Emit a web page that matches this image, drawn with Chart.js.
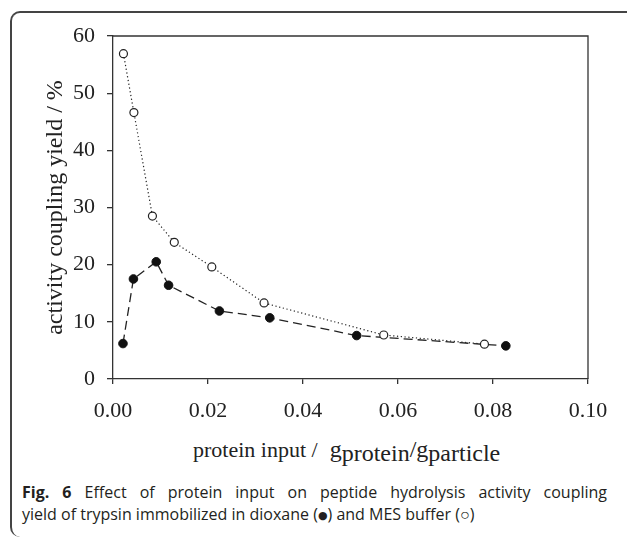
<!DOCTYPE html>
<html>
<head>
<meta charset="utf-8">
<script src="https://cdn.jsdelivr.net/npm/chart.js@4.4.0/dist/chart.umd.min.js"></script>
<style>
  html, body { margin: 0; padding: 0; background: #fff; }
  body { width: 627px; height: 538px; position: relative; overflow: hidden; }
  #frame {
    position: absolute; left: 10px; top: 11px; width: 640px; height: 524px;
    border-left: 2px solid #444; border-top: 2px solid #444;
    border-radius: 10px 0 0 10px;
  }
  #wrap { position: absolute; left: 0; top: 0; width: 627px; height: 430px; }
  #xtitle {
    position: absolute; left: 193px; top: 437px; white-space: nowrap;
    font-family: "Liberation Serif", serif; font-size: 22px; line-height: 24px; color: #222;
  }
  #xtitle .g { font-size: 24px; }
  #xtitle .sub { font-size: 24px; position: relative; top: 4px; }
  #caption {
    position: absolute; left: 22px; top: 481px; width: 585px;
    font-family: "Open Sans", sans-serif; font-size: 16px; line-height: 22px; color: #231f20;
  }
  #caption .l1 { text-align: justify; text-align-last: justify; }
  #caption .dot { font-family: "DejaVu Sans", sans-serif; font-size: 11px; vertical-align: 1px; }
</style>
</head>
<body>
<div id="frame"></div>
<div id="wrap"><canvas id="grafica"></canvas></div>
<div id="xtitle">protein input /<span class="g" style="margin-left:12px">g</span><span class="sub">protein</span><span class="g">/g</span><span class="sub">particle</span></div>
<div id="caption">
  <div class="l1"><b>Fig. 6</b> Effect of protein input on peptide hydrolysis activity coupling</div>
  <div>yield of trypsin immobilized in dioxane (<span class="dot">●</span>) and MES buffer (○)</div>
</div>
<script>
/* ===============================
   DATOS
=============================== */
const dioxanoX = [0.0021, 0.0043, 0.0091, 0.0117, 0.0224, 0.0330, 0.0513, 0.0827];
const dioxanoY = [6.2, 17.5, 20.5, 16.4, 11.9, 10.7, 7.6, 5.8];
const mesX = [0.0022, 0.0044, 0.0083, 0.0129, 0.0208, 0.0318, 0.0570, 0.0782];
const mesY = [56.9, 46.6, 28.5, 23.9, 19.6, 13.3, 7.7, 6.1];
const xTicks = [0, 0.02, 0.04, 0.06, 0.08, 0.10];
const yTicks = [0, 10, 20, 30, 40, 50, 60];

const puntos = (xs, ys) => xs.map((x, i) => ({ x, y: ys[i] }));

/* marco superior y derecho del area */
const marcoArea = {
  id: "marcoArea",
  afterDraw(chart) {
    const { ctx, chartArea: a } = chart;
    ctx.save();
    ctx.strokeStyle = "#333";
    ctx.lineWidth = 1.3;
    ctx.beginPath();
    ctx.moveTo(a.left, a.top);
    ctx.lineTo(a.right, a.top);
    ctx.lineTo(a.right, a.bottom);
    ctx.stroke();
    ctx.restore();
  }
};

const fuenteTicks = { family: "Liberation Serif", size: 22 };

new Chart(document.getElementById("grafica"), {
  type: "scatter",
  data: {
    datasets: [
      {
        label: "MES buffer",
        data: puntos(mesX, mesY),
        showLine: true,
        borderColor: "#222",
        borderWidth: 1.2,
        borderDash: [1.2, 2.6],
        pointRadius: 4,
        pointBorderWidth: 1.2,
        pointBackgroundColor: "#fff",
        pointBorderColor: "#222"
      },
      {
        label: "dioxane",
        data: puntos(dioxanoX, dioxanoY),
        showLine: true,
        borderColor: "#222",
        borderWidth: 1.3,
        borderDash: [9, 5],
        pointRadius: 4.3,
        pointBorderWidth: 1,
        pointBackgroundColor: "#111",
        pointBorderColor: "#111"
      }
    ]
  },
  options: {
    responsive: true,
    maintainAspectRatio: false,
    animation: false,
    layout: { padding: { left: 10, right: 39, top: 36, bottom: 0 } },
    plugins: { legend: { display: false }, tooltip: { enabled: false } },
    scales: {
      x: {
        type: "linear",
        min: 0, max: 0.1,
        afterBuildTicks: s => { s.ticks = xTicks.map(v => ({ value: v })); },
        afterFit: s => { s.height = 51; },
        ticks: { font: fuenteTicks, color: "#222", padding: 14, callback: v => v.toFixed(2) },
        grid: { drawOnChartArea: false, drawTicks: true, tickLength: 5, color: "#333", lineWidth: 1.3 },
        border: { color: "#333", width: 1.3 }
      },
      y: {
        min: 0, max: 60,
        afterBuildTicks: s => { s.ticks = yTicks.map(v => ({ value: v })); },
        afterFit: s => { s.width = 103; },
        ticks: { font: fuenteTicks, color: "#222", padding: 12 },
        grid: { drawOnChartArea: false, drawTicks: true, tickLength: 6, color: "#333", lineWidth: 1.3 },
        border: { color: "#333", width: 1.3 },
        title: {
          display: true,
          text: "activity coupling yield / %",
          font: { family: "Liberation Serif", size: 24 },
          color: "#222",
          padding: { top: 31, bottom: 0 }
        }
      }
    }
  },
  plugins: [marcoArea]
});
</script>
</body>
</html>
